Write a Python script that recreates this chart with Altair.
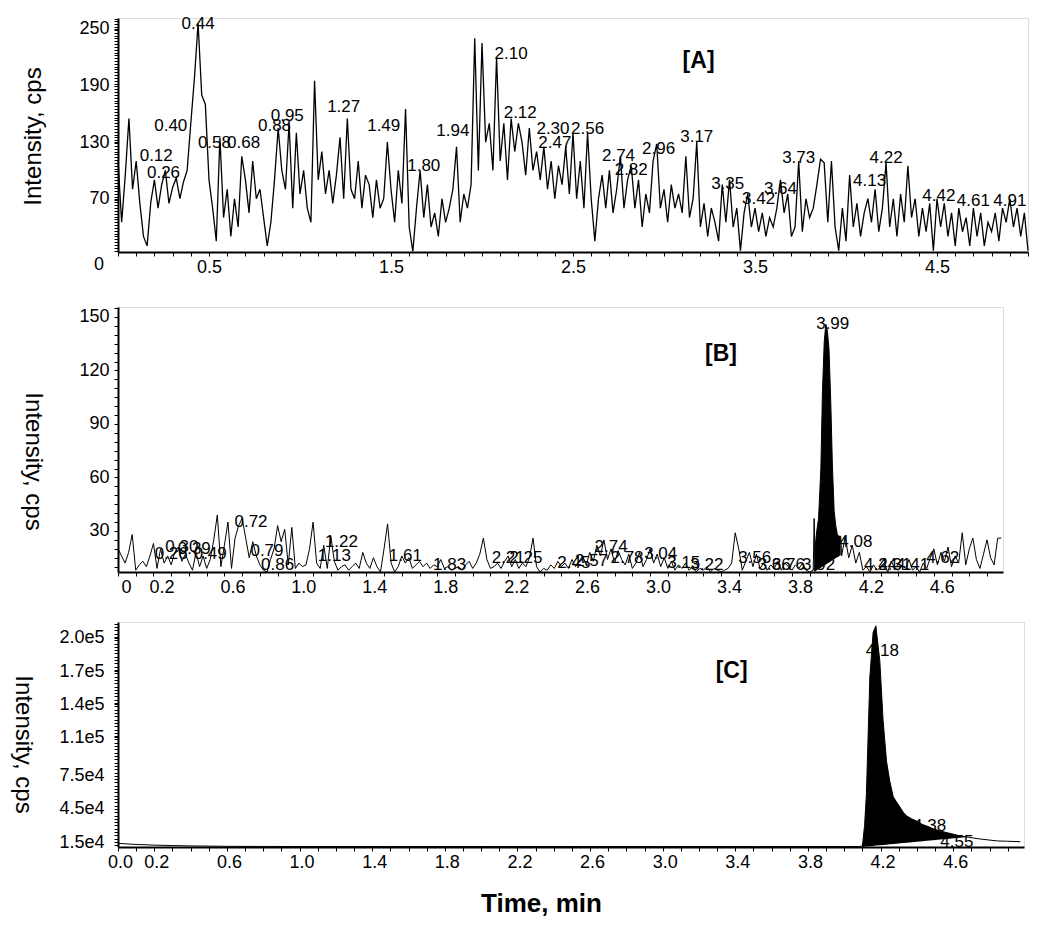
import json
import altair as alt
import numpy as np
import pandas as pd

FONT = "Liberation Sans"

# ---------------- Panel A : noisy trace, sampled every 0.02 min ----------------
A_STEP = 0.02
A_VALUES = [
    110, 45, 95, 155, 80,
    110, 65, 30, 20, 66,
    90, 60, 85, 100, 65,
    82, 92, 70, 88, 100,
    150, 198, 256, 180, 170,
    90, 60, 25, 135, 50,
    80, 30, 70, 40, 115,
    90, 55, 110, 70, 80,
    50, 20, 45, 90, 145,
    100, 80, 150, 60, 140,
    75, 100, 60, 45, 195,
    90, 120, 75, 100, 65,
    95, 135, 70, 155, 80,
    70, 110, 60, 95, 85,
    50, 90, 60, 70, 130,
    80, 45, 100, 65, 165,
    40, 14, 60, 100, 50,
    85, 40, 55, 30, 70,
    45, 60, 80, 125, 45,
    75, 60, 85, 240, 100,
    235, 130, 150, 100, 220,
    110, 150, 90, 155, 120,
    150, 130, 95, 145, 100,
    120, 90, 125, 80, 110,
    70, 105, 85, 125, 75,
    140, 70, 110, 60, 140,
    70, 25, 70, 95, 60,
    100, 55, 80, 115, 60,
    90, 105, 60, 90, 40,
    75, 55, 110, 128, 60,
    80, 45, 85, 60, 75,
    55, 115, 50, 70, 130,
    40, 65, 30, 60, 45,
    25, 85, 45, 90, 40,
    60, 15, 55, 75, 40,
    60, 35, 55, 30, 50,
    40, 60, 90, 55, 75,
    30, 40, 110, 35, 70,
    50, 60, 85, 112, 108,
    45, 110, 40, 15, 60,
    25, 95, 40, 65, 30,
    55, 70, 45, 80, 35,
    60, 108, 40, 70, 30,
    75, 45, 105, 50, 70,
    30, 60, 35, 65, 15,
    70, 40, 65, 30, 55,
    20, 60, 35, 50, 20,
    60, 30, 55, 20, 45,
    35, 55, 25, 60, 45,
    70, 40, 60, 30, 55,
    15,
]
A_LABEL_TEXT = ["0.44", "0.40", "0.12", "0.26", "0.58", "0.68", "0.88", "0.95", "1.27", "1.49",
                "1.80", "1.94", "2.10", "2.12", "2.30", "2.56", "2.47", "2.74", "2.82", "2.96",
                "3.17", "3.35", "3.42", "3.64", "3.73", "4.13", "4.22", "4.42", "4.61", "4.91"]
A_LABEL_T = [0.44, 0.29, 0.21, 0.25, 0.53, 0.69, 0.86, 0.93, 1.24, 1.46,
             1.68, 1.84, 2.16, 2.21, 2.39, 2.58, 2.40, 2.75, 2.82, 2.97,
             3.18, 3.35, 3.52, 3.64, 3.74, 4.13, 4.22, 4.51, 4.70, 4.90]
A_LABEL_V = [255, 147, 115, 97, 129, 129, 147, 158, 167, 147,
             105, 142, 223, 161, 144, 144, 129, 115, 100, 123,
             135, 86, 70, 80, 113, 89, 113, 73, 68, 68]

# ---------------- Panel B ----------------
B_STEP = 0.02
B_VALUES_1 = [  # 0.00 .. 3.90
    20, 16, 12, 18, 28,
    8, 11, 13, 10, 16,
    23, 9, 20, 12, 16,
    11, 18, 21, 13, 17,
    12, 8, 18, 10, 16,
    9, 14, 25, 39, 10,
    22, 35, 9, 26, 33,
    37, 26, 15, 24, 16,
    11, 8, 7, 14, 20,
    33, 24, 31, 11, 32,
    9, 12, 10, 11, 20,
    35, 12, 9, 22, 9,
    27, 13, 8, 10, 11,
    8, 10, 12, 9, 18,
    12, 9, 15, 10, 7,
    20, 34, 12, 7, 10,
    16, 12, 15, 9, 11,
    13, 10, 12, 9, 11,
    10, 14, 9, 10, 8,
    9, 10, 8, 11, 13,
    9, 12, 17, 26, 14,
    9, 10, 12, 9, 13,
    16, 10, 14, 9, 12,
    10, 15, 26, 10, 7,
    9, 8, 11, 9, 13,
    10, 12, 9, 14, 10,
    13, 16, 11, 18, 13,
    22, 16, 25, 14, 20,
    12, 19, 14, 11, 17,
    9, 12, 18, 10, 14,
    20, 12, 17, 10, 15,
    9, 13, 8, 11, 9,
    12, 8, 10, 7, 9,
    8, 10, 7, 9, 8,
    7, 8, 9, 12, 29,
    20, 8, 13, 18, 10,
    17, 9, 12, 8, 11,
    9, 13, 8, 12, 10,
    8, 11, 9, 12, 8,
    7,
]
B_PEAK_T = [3.92, 3.925, 3.93, 3.94, 3.95, 3.963, 3.972, 3.982, 3.991, 4.000,
            4.009, 4.019, 4.028, 4.038, 4.047, 4.056, 4.066, 4.075, 4.08]
B_PEAK_V = [8, 37, 20, 30, 37, 65, 108, 136, 146, 142,
            132, 102, 67, 41, 33, 28, 27, 27, 16]
B_START_2 = 4.10
B_VALUES_2 = [  # 4.10 .. 4.98
    27, 15, 22, 12, 18,
    8, 10, 7, 11, 8,
    10, 12, 7, 13, 9,
    8, 11, 9, 14, 8,
    10, 7, 12, 9, 15,
    20, 11, 18, 13, 21,
    10, 16, 12, 29, 11,
    20, 26, 14, 9, 17,
    25, 15, 11, 26, 26,
]
B_FILL_T = [3.925, 3.93, 3.94, 3.95, 3.963, 3.972, 3.982, 3.991, 4.000, 4.009,
            4.019, 4.028, 4.038, 4.047, 4.056, 4.066, 4.075]
B_FILL_TOP = [37, 20, 30, 37, 65, 108, 136, 146, 142, 132,
              102, 67, 41, 33, 28, 27, 27]
B_FILL_BASE = [7, 7.3, 8, 8.6, 9.4, 10, 10.6, 11.2, 11.8, 12.3,
               13, 13.6, 14.2, 14.8, 15.3, 15.9, 16.5]
B_LABEL_TEXT = ["0.72", "0.26", "0.30", "0.39", "0.49", "0.79", "0.86", "1.22", "1.13", "1.61",
                "1.83", "2.21", "2.25", "2.45", "2.57", "2.74", "2.78", "3.04", "3.15", "3.22",
                "3.56", "3.66", "3.76", "3.92", "3.99", "4.08", "4.24", "4.31", "4.41", "4.62"]
B_LABEL_T = [0.75, 0.30, 0.36, 0.43, 0.52, 0.84, 0.90, 1.26, 1.22, 1.62,
             1.87, 2.20, 2.30, 2.57, 2.67, 2.78, 2.87, 3.06, 3.19, 3.32,
             3.59, 3.70, 3.78, 3.95, 4.03, 4.16, 4.30, 4.38, 4.48, 4.65]
B_LABEL_V = [35, 17, 21, 20, 17, 19, 11, 24, 16, 16,
             11, 15, 15, 12, 13, 21, 15, 17, 12, 11,
             15, 11, 11, 11, 146, 24, 11, 11, 11, 15]

# ---------------- Panel C ----------------
C_T = [0.0, 0.05, 0.1, 0.2, 0.3, 0.4, 0.5, 0.6, 0.8, 1.0,
       1.5, 2.0, 2.5, 3.0, 3.5, 3.8, 4.0, 4.08, 4.10, 4.112,
       4.122, 4.141, 4.159, 4.174, 4.196, 4.214, 4.233, 4.251, 4.270, 4.289,
       4.307, 4.325, 4.344, 4.372, 4.40, 4.43, 4.455, 4.49, 4.529, 4.566,
       4.603, 4.64, 4.677, 4.75, 4.843, 4.90, 4.97]
C_V = [13800, 13300, 12800, 12200, 11800, 11500, 11300, 11100, 11000, 10950,
       10900, 10900, 10900, 10900, 10900, 10900, 10900, 10900, 11500, 30000,
       58500, 164600, 205000, 211000, 179000, 125000, 88000, 70000, 56000, 51000,
       46700, 42000, 38600, 36000, 34000, 31000, 29500, 27000, 25000, 23500,
       22000, 20500, 19500, 17700, 16000, 15700, 15300]
C_FILL_T = [4.10, 4.112, 4.122, 4.141, 4.159, 4.174, 4.196, 4.214, 4.233, 4.251,
            4.270, 4.289, 4.307, 4.325, 4.344, 4.372, 4.40, 4.43, 4.455, 4.49,
            4.529, 4.566, 4.603, 4.64, 4.677]
C_FILL_TOP = [11500, 30000, 58500, 164600, 205000, 211000, 179000, 125000, 88000, 70000,
              56000, 51000, 46700, 42000, 38600, 36000, 34000, 31000, 29500, 27000,
              25000, 23500, 22000, 20500, 19500]
C_FILL_BASE = [10600, 10800, 10950, 11250, 11500, 11750, 12100, 12350, 12650, 12950,
               13200, 13500, 13800, 14100, 14350, 14800, 15200, 15700, 16100, 16600,
               17200, 17800, 18400, 18900, 19500]
C_LABEL_TEXT = ["4.18", "4.38", "4.55"]
C_LABEL_T = [4.21, 4.47, 4.62]
C_LABEL_V = [188600, 29500, 15000]

PANEL_TAGS = ["[A]", "[B]", "[C]"]
TAG_T = [3.19, 3.40, 3.38]
TAG_V = [216, 129, 170000]

# axis tick values
A_X_MAJOR = [0.5, 1.5, 2.5, 3.5, 4.5]
A_Y_MAJOR = [70, 130, 190, 250]
BC_X_MAJOR = [0, 0.2, 0.6, 1.0, 1.4, 1.8, 2.2, 2.6, 3.0, 3.4, 3.8, 4.2, 4.6]
B_Y_MAJOR = [30, 60, 90, 120, 150]
C_Y_MAJOR = [15000, 45000, 75000, 110000, 140000, 170000, 200000]

# ---------------- data frames ----------------
a_df = pd.DataFrame({"t": np.round(np.arange(len(A_VALUES)) * A_STEP, 3), "v": A_VALUES})
b_t = (list(np.round(np.arange(len(B_VALUES_1)) * B_STEP, 3)) + B_PEAK_T
       + list(np.round(B_START_2 + np.arange(len(B_VALUES_2)) * B_STEP, 3)))
b_df = pd.DataFrame({"t": b_t, "v": B_VALUES_1 + B_PEAK_V + B_VALUES_2})
b_fill = pd.DataFrame({"t": B_FILL_T, "top": B_FILL_TOP, "base": B_FILL_BASE})
c_df = pd.DataFrame({"t": C_T, "v": C_V})
c_fill = pd.DataFrame({"t": C_FILL_T, "top": C_FILL_TOP, "base": C_FILL_BASE})

a_lab = pd.DataFrame({"t": A_LABEL_T, "v": A_LABEL_V, "label": A_LABEL_TEXT})
b_lab = pd.DataFrame({"t": B_LABEL_T, "v": B_LABEL_V, "label": B_LABEL_TEXT})
c_lab = pd.DataFrame({"t": C_LABEL_T, "v": C_LABEL_V, "label": C_LABEL_TEXT})


def is_major(majors):
    return f"indexof({json.dumps(majors)}, datum.value) >= 0"


def axis(values, majors, label_fmt, **kw):
    test = is_major(majors)
    base = dict(values=values, labelExpr=f"{test} ? {label_fmt} : ''", tickCount=1000,
                domainColor="black", domainWidth=2,
                tickColor="black", tickWidth=1, tickSize=4, labelFont=FONT,
                labelFontSize={"condition": {"test": test, "value": 18}, "value": 0},
                labelColor="black", labelOverlap=False, labelFlush=False, grid=False,
                labelPadding=2, titleFont=FONT, titleColor="black")
    base.update(kw)
    return alt.Axis(**base)


def panel(line_df, fill_df, lab_df, tag_idx, xdom, ydom, w, h, xaxis, yaxis, lw=1.0, zero_label=False):
    xs = alt.Scale(domain=xdom, nice=False, zero=False)
    ys = alt.Scale(domain=ydom, nice=False, zero=False)

    def X(field="t", ax=alt.Undefined):
        return alt.X(f"{field}:Q", scale=xs, axis=ax)

    def Y(field="v", ax=alt.Undefined):
        return alt.Y(f"{field}:Q", scale=ys, axis=ax)

    layers = [alt.Chart(line_df).mark_line(color="black", strokeWidth=lw)
              .encode(x=X(ax=xaxis), y=Y(ax=yaxis))]
    layers.append(alt.Chart(lab_df).mark_text(font=FONT, fontSize=17, color="black",
                                              align="center", baseline="middle")
                  .encode(x=X(), y=Y(), text="label:N"))
    if fill_df is not None:
        layers.append(alt.Chart(fill_df).mark_area(color="black", opacity=1)
                      .encode(x=X(), y=Y("top"), y2=alt.Y2("base:Q")))
    tag_df = pd.DataFrame({"t": [TAG_T[tag_idx]], "v": [TAG_V[tag_idx]], "label": [PANEL_TAGS[tag_idx]]})
    layers.append(alt.Chart(tag_df).mark_text(font=FONT, fontSize=23, fontWeight="bold", color="black",
                                              align="center", baseline="middle")
                  .encode(x=X(), y=Y(), text="label:N"))
    if zero_label:
        zdf = pd.DataFrame({"v": [0], "label": ["0"]})
        layers.append(alt.Chart(zdf).mark_text(font=FONT, fontSize=18, color="black",
                                               align="right", baseline="middle")
                      .encode(x=alt.value(-14), y=Y(), text="label:N"))
    return alt.layer(*layers).properties(width=w, height=h)


# ---- axes ----
a_xvals = [round(0.1 * i, 1) for i in range(0, 51)]
a_xaxis = axis(a_xvals, A_X_MAJOR, "format(datum.value, '.1f')",
               title=" ", titleFontSize=5, titlePadding=0)
a_yvals = sorted(set([v for v in range(15, 262, 3)] + A_Y_MAJOR))
a_yaxis = axis(a_yvals, A_Y_MAJOR, "format(datum.value, 'd')",
               labelPadding=5, title="Intensity, cps", titleFontSize=24, titleFontWeight="normal",
               titleAngle=270, titleX=-85, titleY=118, titleAlign="center", titleBaseline="middle")

bc_xvals = [round(0.1 * i, 1) for i in range(0, 50)]
b_xaxis = axis(bc_xvals, BC_X_MAJOR, "(datum.value == 0 ? '0' : format(datum.value, '.1f'))",
               title=None, labelOffset=8)
b_yvals = [v for v in range(10, 156, 5)]
b_yaxis = axis(b_yvals, B_Y_MAJOR, "format(datum.value, 'd')",
               labelPadding=5, title="Intensity, cps", titleFontSize=24, titleFontWeight="normal",
               titleAngle=90, titleX=-86, titleY=154, titleAlign="center", titleBaseline="middle")

c_xaxis = axis(bc_xvals, BC_X_MAJOR, "format(datum.value, '.1f')",
               title="Time, min", titleFontSize=26, titleFontWeight="bold", titleX=423, titleY=56,
               titleAlign="center", titleBaseline="middle", labelOffset=2)
c_yvals = sorted(set([v for v in range(12000, 214001, 3000)] + C_Y_MAJOR))
c_yaxis = axis(c_yvals, C_Y_MAJOR, "replace(format(datum.value, '.1e'), '+', '')",
               labelPadding=10, title="Intensity, cps", titleFontSize=24, titleFontWeight="normal",
               titleAngle=90, titleX=-96, titleY=122, titleAlign="center", titleBaseline="middle")

pa = panel(a_df, None, a_lab, 0, [0, 5.0], [13.5, 261.6], 910, 234, a_xaxis, a_yaxis, lw=1.3, zero_label=True)
pb = panel(b_df, b_fill, b_lab, 1, [0, 4.99], [7, 155.6], 885, 265, b_xaxis, b_yaxis)
pc = panel(c_df, c_fill, c_lab, 2, [0, 4.99], [10500, 214500], 906, 225, c_xaxis, c_yaxis)

chart = (alt.vconcat(pa, pb, pc, spacing=24)
         .properties(padding={"left": 1, "top": 6, "right": 5, "bottom": 5})
         .configure_view(strokeOpacity=0)
         .configure(background="white"))

chart.save("out.html", embed_options={"renderer": "svg", "actions": False})
